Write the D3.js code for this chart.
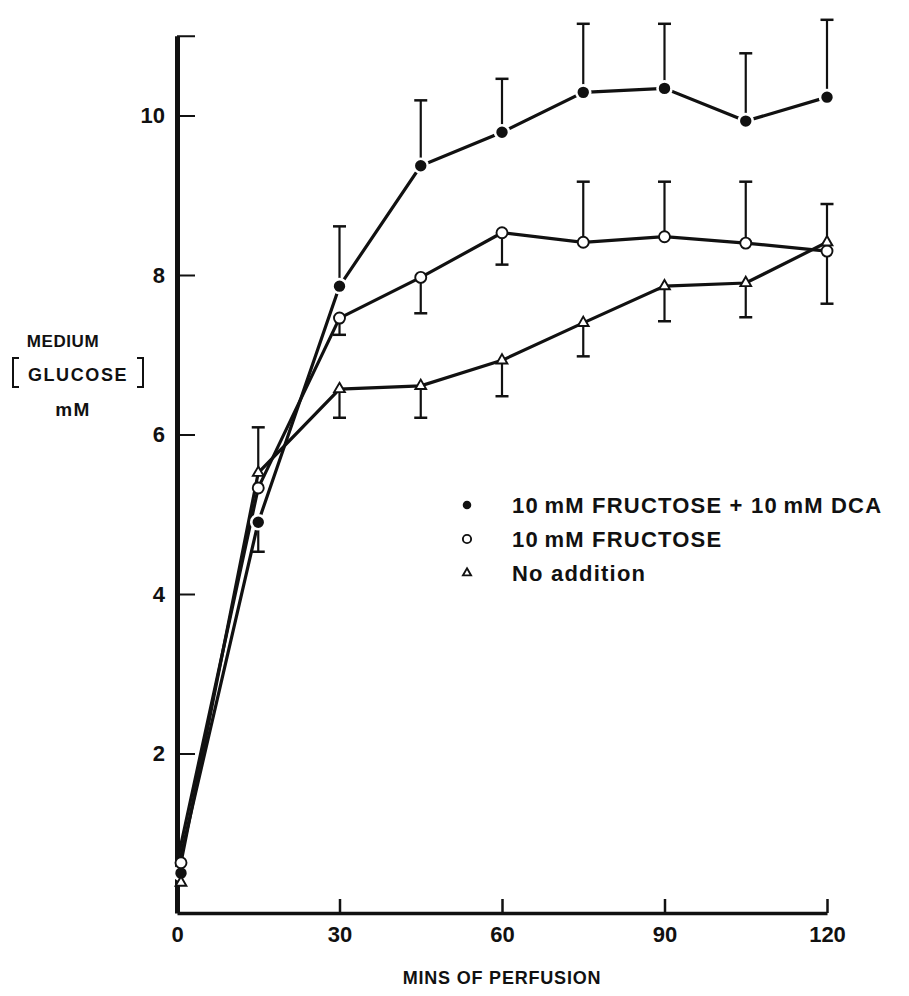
<!DOCTYPE html>
<html>
<head>
<meta charset="utf-8">
<script src="https://cdn.jsdelivr.net/npm/d3@7"></script>
<style>
  body { margin: 0; background: #fff; }
  text { font-family: "Liberation Sans", Arial, sans-serif; fill: #111; }
</style>
</head>
<body>
<div id="app"></div>
<script>
// minutes of perfusion
const times = [0, 15, 30, 45, 60, 75, 90, 105, 120];

// 10 mM fructose + 10 mM DCA (filled circles)
const dcaMean = [0.5, 4.9, 7.86, 9.37, 9.79, 10.29, 10.34, 9.93, 10.23];
const dcaErrEnd = [null, 4.53, 8.61, 10.19, 10.46, 11.15, 11.15, 10.78, 11.2];

// 10 mM fructose (open circles)
const fruMean = [0.63, 5.33, 7.46, 7.97, 8.53, 8.41, 8.48, 8.40, 8.30];
const fruErrEnd = [null, null, 7.25, 7.52, 8.13, 9.17, 9.17, 9.17, 7.64];

// no addition (triangles)
const noneMean = [0.38, 5.52, 6.57, 6.61, 6.93, 7.40, 7.86, 7.90, 8.41];
const noneErrEnd = [null, 6.09, 6.21, 6.21, 6.48, 6.98, 7.42, 7.47, 8.89];

const xTicks = [0, 30, 60, 90, 120];
const yTicks = [2, 4, 6, 8, 10, 11];

const legendLabels = ["10\u2009mM  FRUCTOSE + 10\u2009mM  DCA", "10\u2009mM  FRUCTOSE", "No addition"];

const width = 909, height = 996;

const svg = d3.select("#app").append("svg")
    .attr("width", width)
    .attr("height", height);

svg.append("rect").attr("width", width).attr("height", height).attr("fill", "#fff");

const x = d3.scaleLinear().domain([0, 120]).range([177, 827]);
const y = d3.scaleLinear().domain([0, 11]).range([913, 35.75]);

// axes
const yAxis = svg.append("g")
    .attr("transform", `translate(${x(0)},0)`)
    .call(d3.axisLeft(y)
        .tickValues(yTicks)
        .tickFormat(d => d === 11 ? "" : d)
        .tickSizeInner(-18)
        .tickSizeOuter(0)
        .tickPadding(12));
yAxis.select(".domain").attr("stroke", "#111").attr("stroke-width", 5);
yAxis.selectAll(".tick line").attr("stroke", "#111").attr("stroke-width", 2);
yAxis.selectAll(".tick text")
    .style("font-size", "22px")
    .style("font-weight", "bold")
    .attr("fill", "#111");

const xAxis = svg.append("g")
    .attr("transform", `translate(0,${y(0)})`)
    .call(d3.axisBottom(x)
        .tickValues(xTicks)
        .tickSizeInner(-14)
        .tickSizeOuter(0)
        .tickPadding(13));
xAxis.select(".domain").attr("stroke", "#111").attr("stroke-width", 3.5);
xAxis.selectAll(".tick line").attr("stroke", "#111").attr("stroke-width", 2.5);
xAxis.selectAll(".tick text")
    .style("font-size", "22px")
    .style("font-weight", "bold")
    .attr("fill", "#111");

// axis titles
svg.append("text")
    .attr("x", 502).attr("y", 984)
    .attr("text-anchor", "middle")
    .style("font-size", "18px")
    .style("font-weight", "bold")
    .style("letter-spacing", "0.8px")
    .text("MINS OF PERFUSION");

const yt = svg.append("g");
yt.append("text").attr("x", 63).attr("y", 347).attr("text-anchor", "middle")
    .style("font-size", "17px").style("font-weight", "bold")
    .style("letter-spacing", "0.6px").text("MEDIUM");
yt.append("text").attr("x", 78).attr("y", 381).attr("text-anchor", "middle")
    .style("font-size", "18px").style("font-weight", "bold")
    .style("letter-spacing", "1.6px").text("GLUCOSE");
yt.append("text").attr("x", 73).attr("y", 416).attr("text-anchor", "middle")
    .style("font-size", "19px").style("font-weight", "bold")
    .style("letter-spacing", "1.5px").text("mM");
// square brackets round GLUCOSE
yt.append("path")
    .attr("d", "M19,358 L13,358 L13,387 L19,387")
    .attr("fill", "none").attr("stroke", "#111").attr("stroke-width", 2);
yt.append("path")
    .attr("d", "M137,358 L143,358 L143,387 L137,387")
    .attr("fill", "none").attr("stroke", "#111").attr("stroke-width", 2);

const series = [
    { mean: dcaMean, err: dcaErrEnd, kind: "filled" },
    { mean: fruMean, err: fruErrEnd, kind: "open" },
    { mean: noneMean, err: noneErrEnd, kind: "triangle" }
];

const line = d3.line()
    .x((d, i) => x(times[i]))
    .y(d => y(d));

// lines
series.forEach(s => {
    svg.append("path")
        .datum(s.mean)
        .attr("d", line)
        .attr("fill", "none")
        .attr("stroke", "#111")
        .attr("stroke-width", 3.2);
});

// error bars (one sided)
series.forEach(s => {
    const bars = times.map((t, i) => ({ t, m: s.mean[i], e: s.err[i] })).filter(d => d.e != null);
    const g = svg.append("g");
    g.selectAll("line.bar").data(bars).enter().append("line")
        .attr("x1", d => x(d.t)).attr("x2", d => x(d.t))
        .attr("y1", d => y(d.m)).attr("y2", d => y(d.e))
        .attr("stroke", "#111").attr("stroke-width", 2.2);
    g.selectAll("line.cap").data(bars).enter().append("line")
        .attr("x1", d => x(d.t) - 6.5).attr("x2", d => x(d.t) + 6.5)
        .attr("y1", d => y(d.e)).attr("y2", d => y(d.e))
        .attr("stroke", "#111").attr("stroke-width", 2.5);
});

// markers
const tri = d3.symbol().type(d3.symbolTriangle);

function drawMarker(g, kind, cx, cy, scale) {
    if (kind === "filled") {
        g.append("circle").attr("cx", cx).attr("cy", cy).attr("r", 7 * scale)
            .attr("fill", "#111").attr("stroke", "#fff").attr("stroke-width", 2.6 * scale);
    } else if (kind === "open") {
        g.append("circle").attr("cx", cx).attr("cy", cy).attr("r", 5.5 * scale)
            .attr("fill", "#fff").attr("stroke", "#111").attr("stroke-width", 1.9);
    } else {
        g.append("path").attr("d", tri.size(50 * scale * scale)())
            .attr("transform", `translate(${cx},${cy})`)
            .attr("fill", "#fff").attr("stroke", "#111").attr("stroke-width", 1.9);
    }
}

series.forEach(s => {
    const g = svg.append("g");
    s.mean.forEach((v, i) => drawMarker(g, s.kind, x(times[i]) + (i === 0 ? 4 : 0), y(v), 1));
});

// legend
const legendY = [505, 539, 573];
const lg = svg.append("g");
series.forEach((s, i) => {
    drawMarker(lg, s.kind, 467, legendY[i], 0.75);
    lg.append("text")
        .attr("x", 512).attr("y", legendY[i])
        .attr("dy", "0.36em")
        .style("font-size", "22px")
        .style("font-weight", "bold")
        .style("letter-spacing", "1.2px")
        .text(legendLabels[i]);
});
</script>
</body>
</html>
